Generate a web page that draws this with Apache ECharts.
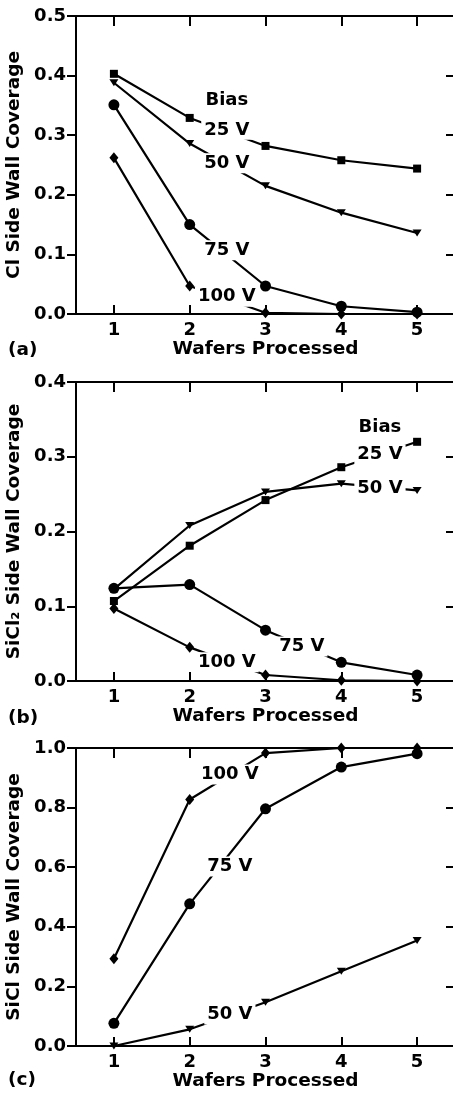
<!DOCTYPE html>
<html><head><meta charset="utf-8">
<script src="https://cdn.jsdelivr.net/npm/echarts@6/dist/echarts.min.js"></script>
<style>html,body{margin:0;padding:0;background:#fff}#c{width:453px;height:1097px}</style>
</head><body><div id="c"></div>
<script>
// ---- data ----
const wafers = [1, 2, 3, 4, 5];
const xTicks = [1, 2, 3, 4, 5];

// (a) Cl side wall coverage
const clBias25  = [0.403, 0.329, 0.282, 0.258, 0.244];
const clBias50  = [0.388, 0.286, 0.215, 0.170, 0.136];
const clBias75  = [0.351, 0.150, 0.047, 0.013, 0.003];
const clBias100 = [0.262, 0.047, 0.002, 0.000, 0.000];

// (b) SiCl2 side wall coverage
const sicl2Bias25  = [0.107, 0.181, 0.242, 0.286, 0.320];
const sicl2Bias50  = [0.123, 0.208, 0.253, 0.264, 0.255];
const sicl2Bias75  = [0.124, 0.129, 0.068, 0.025, 0.008];
const sicl2Bias100 = [0.097, 0.045, 0.008, 0.001, 0.000];

// (c) SiCl side wall coverage
const siclBias50  = [0.000, 0.056, 0.147, 0.251, 0.354];
const siclBias75  = [0.076, 0.477, 0.796, 0.936, 0.981];
const siclBias100 = [0.293, 0.827, 0.983, 1.000, 1.000];

// annotation labels (data coordinates)
const notesA = [['Bias', 2.49, 0.359], ['25 V', 2.49, 0.309], ['50 V', 2.49, 0.253], ['75 V', 2.49, 0.107], ['100 V', 2.49, 0.029]];
const notesB = [['Bias', 4.51, 0.340], ['25 V', 4.51, 0.303], ['50 V', 4.51, 0.258], ['75 V', 3.48, 0.046], ['100 V', 2.49, 0.025]];
const notesC = [['100 V', 2.53, 0.911], ['75 V', 2.53, 0.602], ['50 V', 2.53, 0.106]];

// ---- chart ----
const FONT = 'DejaVu Sans';
const BLACK = '#000';
const grids = [
  {left: 76, top: 16, width: 379, height: 298, containLabel: false, outerBoundsMode: 'none'},
  {left: 76, top: 382, width: 379, height: 299, containLabel: false, outerBoundsMode: 'none'},
  {left: 76, top: 748, width: 379, height: 298, containLabel: false, outerBoundsMode: 'none'}
];
const yMax = [0.5, 0.4, 1.0];
const yInt = [0.1, 0.1, 0.2];
const yNames = ['Cl Side Wall Coverage', 'SiCl\u2082 Side Wall Coverage', 'SiCl Side Wall Coverage'];

const xAxes = [], yAxes = [];
grids.forEach((g, i) => {
  xAxes.push({
    type: 'value', gridIndex: i, position: 'bottom', min: 0.5, max: 5.5,
    name: 'Wafers Processed', nameLocation: 'middle', nameGap: 26,
    nameTextStyle: {fontFamily: FONT, fontWeight: 'bold', fontSize: 18.5, color: BLACK},
    axisLine: {show: true, onZero: false, lineStyle: {color: BLACK, width: 2}},
    axisTick: {show: true, inside: true, length: 9, lineStyle: {color: BLACK, width: 2}, customValues: xTicks},
    axisLabel: {show: true, margin: 7, fontFamily: FONT, fontWeight: 'bold', fontSize: 18, color: BLACK, customValues: xTicks},
    splitLine: {show: false}
  });
  xAxes.push({
    type: 'value', gridIndex: i, position: 'top', min: 0.5, max: 5.5,
    axisLine: {show: true, onZero: false, lineStyle: {color: BLACK, width: 2}},
    axisTick: {show: true, inside: true, length: 10, lineStyle: {color: BLACK, width: 2}, customValues: xTicks},
    axisLabel: {show: false},
    splitLine: {show: false}
  });
  yAxes.push({
    type: 'value', gridIndex: i, position: 'left', min: 0, max: yMax[i], interval: yInt[i],
    name: yNames[i], nameLocation: 'middle', nameGap: 43, nameRotate: 90,
    nameTextStyle: {fontFamily: FONT, fontWeight: 'bold', fontSize: 18.5, color: BLACK},
    axisLine: {show: true, onZero: false, lineStyle: {color: BLACK, width: 2}},
    axisTick: {show: true, inside: false, length: 9, lineStyle: {color: BLACK, width: 2}},
    axisLabel: {show: true, margin: 10, fontFamily: FONT, fontWeight: 'bold', fontSize: 18, color: BLACK,
      formatter: v => v.toFixed(1)},
    splitLine: {show: false}
  });
  yAxes.push({
    type: 'value', gridIndex: i, position: 'right', min: 0, max: yMax[i], interval: yInt[i],
    axisLine: {show: true, onZero: false, lineStyle: {color: BLACK, width: 2}},
    axisTick: {show: true, inside: true, length: 9, lineStyle: {color: BLACK, width: 2}},
    axisLabel: {show: false},
    splitLine: {show: false}
  });
});

const markers = {
  b25: {symbol: 'rect', symbolSize: 8, symbolRotate: 0},
  b50: {symbol: 'triangle', symbolSize: [9, 7], symbolRotate: 180},
  b75: {symbol: 'circle', symbolSize: 11, symbolRotate: 0},
  b100: {symbol: 'diamond', symbolSize: [9, 11], symbolRotate: 0}
};

function lineSeries(panel, vals, key) {
  const m = markers[key];
  return {
    type: 'line', xAxisIndex: panel * 2, yAxisIndex: panel * 2,
    data: wafers.map((w, k) => [w, vals[k]]),
    symbol: m.symbol, symbolSize: m.symbolSize, symbolRotate: m.symbolRotate, showSymbol: true,
    lineStyle: {color: BLACK, width: 2.2}, itemStyle: {color: BLACK, opacity: 1},
    clip: false, z: 3, silent: true, animation: false
  };
}
function noteSeries(panel, notes) {
  return {
    type: 'scatter', xAxisIndex: panel * 2, yAxisIndex: panel * 2,
    data: notes.map(n => ({value: [n[1], n[2]], name: n[0]})),
    symbolSize: 0, z: 10, silent: true, animation: false,
    itemStyle: {opacity: 1, color: '#fff'},
    label: {show: true, position: 'inside', formatter: p => p.name, opacity: 1,
      fontFamily: FONT, fontWeight: 'bold', fontSize: 18, color: BLACK,
      backgroundColor: '#fff', padding: [1, 3]}
  };
}

const series = [
  lineSeries(0, clBias25, 'b25'), lineSeries(0, clBias50, 'b50'),
  lineSeries(0, clBias75, 'b75'), lineSeries(0, clBias100, 'b100'),
  lineSeries(1, sicl2Bias25, 'b25'), lineSeries(1, sicl2Bias50, 'b50'),
  lineSeries(1, sicl2Bias75, 'b75'), lineSeries(1, sicl2Bias100, 'b100'),
  lineSeries(2, siclBias50, 'b50'), lineSeries(2, siclBias75, 'b75'),
  lineSeries(2, siclBias100, 'b100'),
  noteSeries(0, notesA), noteSeries(1, notesB), noteSeries(2, notesC)
];

const panelTags = [['(a)', 350], ['(b)', 718], ['(c)', 1080]];
const graphic = panelTags.map(t => ({
  type: 'text', x: 8, y: t[1],
  style: {text: t[0], font: 'bold 18.5px "DejaVu Sans"', fill: BLACK, verticalAlign: 'middle', textVerticalAlign: 'middle'}
}));

const chart = echarts.init(document.getElementById('c'), null, {renderer: 'canvas'});
chart.setOption({
  animation: false,
  backgroundColor: '#fff',
  grid: grids,
  xAxis: xAxes,
  yAxis: yAxes,
  series: series,
  graphic: graphic
});
</script></body></html>
